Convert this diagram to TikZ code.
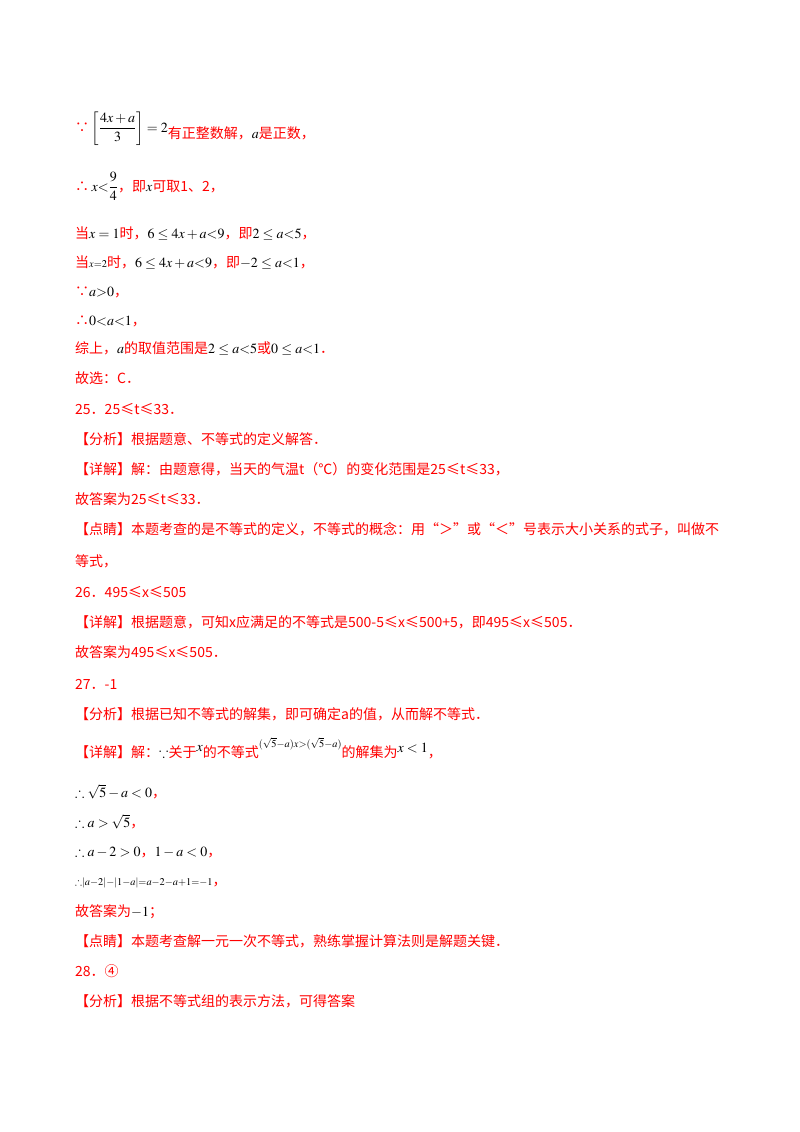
\documentclass[tikz,border=0pt]{standalone}
\usepackage{amsmath,amssymb}
\usepackage{mathptmx}
\usepackage{fontspec}
\setmainfont{Noto Sans CJK SC}
\newcommand{\M}[1]{\textcolor{black}{$#1$}}
\tikzset{ln/.style={anchor=base west,inner sep=0pt,text=red,font=\fontsize{14}{16}\selectfont}}
\begin{document}
\begin{tikzpicture}[x=1pt,y=-1pt]
\useasboundingbox[fill=white] (0,0) rectangle (800,1132);
\node[ln] (l1) at (75,132) {∵\,\M{\left[\dfrac{4x+a}{3}\right]=2}\raisebox{-6pt}{有正整数解，\M{a}是正数，}};
\node[ln] (l2) at (75,191) {∴\,\M{x{<}\dfrac{9}{4}}，即\M{x}可取1、2，};
\node[ln] (l3) at (75,238) {当\M{x=1}时，\M{6\le 4x+a{<}9}，即\M{2\le a{<}5}，};
\node[ln] (l4) at (75,267) {当\M{\scriptstyle x=2}时，\M{6\le 4x+a{<}9}，即\M{-2\le a{<}1}，};
\node[ln] (l5) at (75,296) {∵\M{a{>}0}，};
\node[ln] (l6) at (75,325) {∴\M{0{<}a{<}1}，};
\node[ln] (l7) at (75,353) {综上，\M{a}的取值范围是\M{2\le a{<}5}或\M{0\le a{<}1}．};
\node[ln] (l8) at (75,383) {故选：C．};
\node[ln] (l9) at (75,414) {25．25≤t≤33．};
\node[ln] (l10) at (75,444) {【分析】根据题意、不等式的定义解答．};
\node[ln] (l11) at (75,474) {【详解】解：由题意得，当天的气温t（℃）的变化范围是25≤t≤33，};
\node[ln] (l12) at (75,504) {故答案为25≤t≤33．};
\node[ln] (l13) at (75,534) {【点睛】本题考查的是不等式的定义，不等式的概念：用“＞”或“＜”号表示大小关系的式子，叫做不};
\node[ln] (l14) at (75,566) {等式，};
\node[ln] (l15) at (75,597) {26．495≤x≤505};
\node[ln] (l16) at (75,627) {【详解】根据题意，可知x应满足的不等式是500-5≤x≤500+5，即495≤x≤505．};
\node[ln] (l17) at (75,657) {故答案为495≤x≤505．};
\node[ln] (l18) at (75,689) {27．-1};
\node[ln] (l19) at (75,719) {【分析】根据已知不等式的解集，即可确定a的值，从而解不等式．};
\node[ln] (l20) at (75,757) {【详解】解：\M{\because}关于\raisebox{6pt}{\M{x}}的不等式\raisebox{10pt}{\M{\scriptstyle(\sqrt5-a)x>(\sqrt5-a)}}的解集为\raisebox{5pt}{\M{x<1}}，};
\node[ln] (l21) at (75,797) {\M{\therefore \sqrt5-a<0}，};
\node[ln] (l22) at (75,827) {\M{\therefore a>\sqrt5}，};
\node[ln] (l23) at (75,856) {\M{\therefore a-2>0}，\M{1-a<0}，};
\node[ln] (l24) at (75,885) {\M{\scriptstyle\therefore|a-2|-|1-a|=a-2-a+1=-1}，};
\node[ln] (l25) at (75,916) {故答案为\M{-1}；};
\node[ln] (l26) at (75,946) {【点睛】本题考查解一元一次不等式，熟练掌握计算法则是解题关键．};
\node[ln] (l27) at (75,976) {28．④};
\node[ln] (l28) at (75,1006) {【分析】根据不等式组的表示方法，可得答案};
\end{tikzpicture}
\end{document}
